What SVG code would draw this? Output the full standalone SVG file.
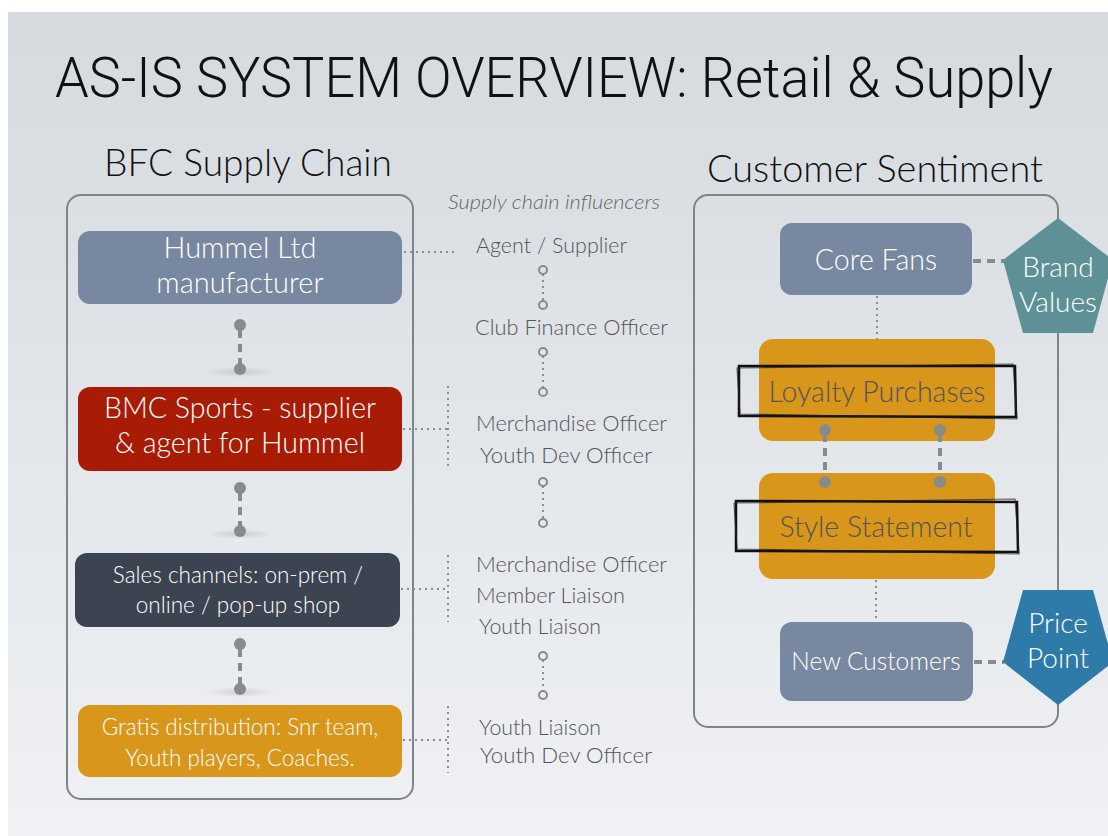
<svg xmlns="http://www.w3.org/2000/svg" width="1108" height="836" viewBox="0 0 1108 836">
<defs>
<linearGradient id="bg" x1="0" y1="0" x2="0" y2="1">
<stop offset="0" stop-color="#d5dadf"/>
<stop offset="1" stop-color="#eff1f4"/>
</linearGradient>
<radialGradient id="sh" cx="0.5" cy="0.5" r="0.5">
<stop offset="0" stop-color="#000" stop-opacity="0.12"/>
<stop offset="1" stop-color="#000" stop-opacity="0"/>
</radialGradient>
</defs>
<style>
.title{font-family:Roboto,"Liberation Sans",sans-serif;font-weight:300;fill:#111}
.head{font-family:Lato,"Open Sans",sans-serif;font-weight:300;fill:#111}
.nt{font-family:Lato,"Open Sans",sans-serif;font-weight:300;fill:#fff;text-anchor:middle}
.dt{font-family:Lato,"Open Sans",sans-serif;font-weight:300;fill:#555;text-anchor:middle}
.inf{font-family:Lato,"Open Sans",sans-serif;font-weight:300;fill:#555;font-size:21px}
.cont{fill:none;stroke:#7f8587;stroke-width:2}
.dot{stroke:#8a8e90;stroke-width:2;stroke-dasharray:2 4;fill:none}
.dash{stroke:#878b8a;stroke-width:4;stroke-dasharray:8 6;fill:none}
.ball{fill:#878b8a}
.ring{fill:none;stroke:#878b8a;stroke-width:2}
.sk{fill:none;stroke:#111;stroke-width:2.5}
.sk2{fill:none;stroke:#222;stroke-width:1.2;opacity:0.7}
</style>
<rect x="0" y="0" width="1108" height="836" fill="#ffffff"/>
<rect x="8" y="12" width="1100" height="824" fill="url(#bg)"/>

<text class="title" x="55" y="97" font-size="56" textLength="998" lengthAdjust="spacingAndGlyphs">AS-IS SYSTEM OVERVIEW: Retail &amp; Supply</text>
<text class="head" x="104" y="176" font-size="37" textLength="288" lengthAdjust="spacingAndGlyphs">BFC Supply Chain</text>
<text class="head" x="707" y="182" font-size="37" textLength="336" lengthAdjust="spacingAndGlyphs">Customer Sentiment</text>

<rect class="cont" x="67" y="195" width="346" height="604" rx="14"/>
<rect class="cont" x="694" y="195" width="364" height="532" rx="14"/>

<text x="448" y="209" font-family="Lato,'Open Sans',sans-serif" font-weight="300" font-style="italic" font-size="20" fill="#666" textLength="212" lengthAdjust="spacingAndGlyphs">Supply chain influencers</text>

<g id="connectors">
<ellipse cx="240" cy="372" rx="34" ry="5" fill="url(#sh)"/>
<ellipse cx="240" cy="534" rx="34" ry="5" fill="url(#sh)"/>
<ellipse cx="240" cy="692" rx="34" ry="5" fill="url(#sh)"/>
<line class="dash" x1="240" y1="330" x2="240" y2="366"/>
<circle class="ball" cx="240" cy="325" r="6"/>
<circle class="ball" cx="240" cy="369" r="6"/>
<line class="dash" x1="240" y1="493" x2="240" y2="528"/>
<circle class="ball" cx="240" cy="488" r="6"/>
<circle class="ball" cx="240" cy="531" r="6"/>
<line class="dash" x1="240" y1="649" x2="240" y2="686"/>
<circle class="ball" cx="240" cy="644" r="6"/>
<circle class="ball" cx="240" cy="689" r="6"/>

<line class="dot" x1="404" y1="252" x2="455" y2="252"/>
<line class="dot" x1="403" y1="429" x2="448" y2="429"/>
<line class="dot" x1="448" y1="386" x2="448" y2="468"/>
<line class="dot" x1="401" y1="589" x2="448" y2="589"/>
<line class="dot" x1="448" y1="555" x2="448" y2="622"/>
<line class="dot" x1="403" y1="740" x2="448" y2="740"/>
<line class="dot" x1="448" y1="706" x2="448" y2="773"/>

<line class="dot" x1="543" y1="274" x2="543" y2="301"/>
<circle class="ring" cx="543" cy="270" r="4"/>
<circle class="ring" cx="543" cy="305" r="4"/>
<line class="dot" x1="543" y1="356" x2="543" y2="388"/>
<circle class="ring" cx="543" cy="352" r="4"/>
<circle class="ring" cx="543" cy="392" r="4"/>
<line class="dot" x1="543" y1="486" x2="543" y2="519"/>
<circle class="ring" cx="543" cy="482" r="4"/>
<circle class="ring" cx="543" cy="523" r="4"/>
<line class="dot" x1="543" y1="660" x2="543" y2="691"/>
<circle class="ring" cx="543" cy="656" r="4"/>
<circle class="ring" cx="543" cy="695" r="4"/>

<line class="dot" x1="877" y1="296" x2="877" y2="340"/>
<line class="dot" x1="876" y1="580" x2="876" y2="640"/>
<line class="dash" x1="973" y1="261" x2="1004" y2="261"/>
<line class="dash" x1="974" y1="662" x2="1004" y2="662"/>
<ellipse cx="825" cy="485" rx="30" ry="5" fill="url(#sh)"/>
<ellipse cx="940" cy="485" rx="30" ry="5" fill="url(#sh)"/>
</g>

<g id="hummel">
<rect x="78" y="231" width="324" height="73" rx="12" fill="#7888a0"/>
<text class="nt" x="240" y="258" font-size="29">Hummel Ltd</text>
<text class="nt" x="240" y="293" font-size="29">manufacturer</text>
</g>
<g id="bmc">
<rect x="78" y="387" width="324" height="84" rx="12" fill="#a81b05"/>
<text class="nt" x="240" y="418" font-size="28.5">BMC Sports - supplier</text>
<text class="nt" x="240" y="453" font-size="28.5">&amp; agent for Hummel</text>
</g>
<g id="sales">
<rect x="75" y="553" width="325" height="74" rx="12" fill="#3d4451"/>
<text class="nt" x="238" y="583" font-size="22.5">Sales channels: on-prem /</text>
<text class="nt" x="238" y="613" font-size="22.5">online / pop-up shop</text>
</g>
<g id="gratis">
<rect x="78" y="705" width="324" height="72" rx="12" fill="#d8961b"/>
<text class="nt" x="240" y="735" font-size="22.5">Gratis distribution: Snr team,</text>
<text class="nt" x="240" y="766" font-size="22.5">Youth players, Coaches.</text>
</g>

<g id="influencers">
<text class="inf" x="476" y="253" textLength="151" lengthAdjust="spacingAndGlyphs">Agent / Supplier</text>
<text class="inf" x="475" y="335" textLength="193" lengthAdjust="spacingAndGlyphs">Club Finance Officer</text>
<text class="inf" x="476" y="431" textLength="191" lengthAdjust="spacingAndGlyphs">Merchandise Officer</text>
<text class="inf" x="480" y="463" textLength="172" lengthAdjust="spacingAndGlyphs">Youth Dev Officer</text>
<text class="inf" x="476" y="572" textLength="191" lengthAdjust="spacingAndGlyphs">Merchandise Officer</text>
<text class="inf" x="476" y="603" textLength="149" lengthAdjust="spacingAndGlyphs">Member Liaison</text>
<text class="inf" x="479" y="634" textLength="122" lengthAdjust="spacingAndGlyphs">Youth Liaison</text>
<text class="inf" x="479" y="735" textLength="122" lengthAdjust="spacingAndGlyphs">Youth Liaison</text>
<text class="inf" x="480" y="763" textLength="172" lengthAdjust="spacingAndGlyphs">Youth Dev Officer</text>
</g>

<g id="core-fans">
<rect x="780" y="223" width="192" height="72" rx="12" fill="#7888a0"/>
<text class="nt" x="876" y="270" font-size="28.5">Core Fans</text>
</g>
<g id="brand-values">
<polygon points="1058,218 1113,260 1093,333 1023,333 1003,260" fill="#5e9196"/>
<text class="nt" x="1058" y="277" font-size="28">Brand</text>
<text class="nt" x="1058" y="312" font-size="28">Values</text>
</g>
<g id="loyalty">
<rect x="759" y="339" width="236" height="102" rx="14" fill="#d8961b"/>
<path class="sk" d="M739,366 L1015,366 L1016,417 L739,416 Z"/>
<path class="sk2" d="M737,368 L1013,364 L1017,419 L740,414 Z"/>
<text class="dt" x="877" y="402" font-size="28.5">Loyalty Purchases</text>
</g>
<g id="loyalty-style-links">
<line class="dash" x1="825" y1="434" x2="825" y2="480"/>
<line class="dash" x1="940" y1="434" x2="940" y2="480"/>
<circle class="ball" cx="825" cy="430" r="6"/>
<circle class="ball" cx="940" cy="430" r="6"/>
</g>
<g id="style">
<rect x="759" y="473" width="236" height="106" rx="14" fill="#d8961b"/>
<circle class="ball" cx="825" cy="482" r="6"/>
<circle class="ball" cx="940" cy="482" r="6"/>
<path class="sk" d="M736,501 L1017,502 L1018,552 L736,551 Z"/>
<path class="sk2" d="M734,503 L1015,499 L1019,554 L737,549 Z"/>
<text class="dt" x="876" y="537" font-size="28.5">Style Statement</text>
</g>
<g id="new-customers">
<rect x="780" y="622" width="193" height="79" rx="12" fill="#7888a0"/>
<text class="nt" x="876" y="670" font-size="24.5">New Customers</text>
</g>
<g id="price-point">
<polygon points="1023,590 1093,590 1113,662 1058,705 1003,662" fill="#2e7aa8"/>
<text class="nt" x="1058" y="633" font-size="28">Price</text>
<text class="nt" x="1058" y="668" font-size="28">Point</text>
</g>
</svg>
